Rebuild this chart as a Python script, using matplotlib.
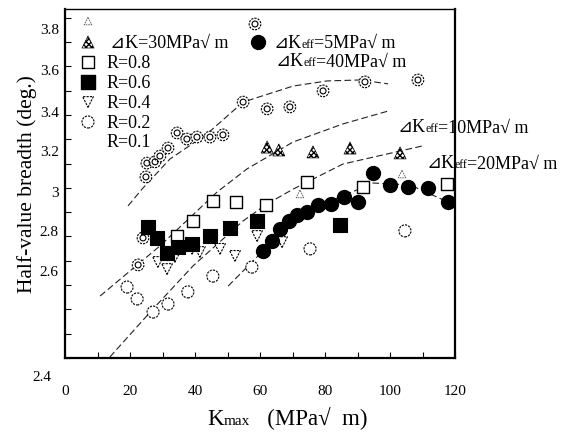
import numpy as np
import matplotlib
matplotlib.use('Agg')
import matplotlib.pyplot as plt
from matplotlib.offsetbox import TextArea, HPacker, AnnotationBbox
from matplotlib.transforms import blended_transform_factory

SERIF = ['Liberation Serif', 'DejaVu Serif', 'DejaVu Sans', 'Noto Sans CJK SC']

# ---------------- data ----------------
r01_x = [24.9, 25.2, 27.7, 29.2, 31.7, 34.5, 37.5, 40.6, 44.6, 48.6, 54.8, 62.2, 69.2, 79.4, 92.3, 108.6, 24.0, 22.5]
r01_y = [3.145, 3.202, 3.207, 3.231, 3.264, 3.326, 3.301, 3.309, 3.309, 3.318, 3.453, 3.425, 3.433, 3.499, 3.536, 3.544, 2.894, 2.783]

dk30_x = [62.2, 65.8, 76.3, 87.7, 103.1]
dk30_y = [3.268, 3.256, 3.248, 3.264, 3.244]

keff5_x = [60.9, 63.7, 66.2, 68.9, 71.4, 74.5, 77.8, 81.8, 85.8, 90.2, 94.8, 100.0, 105.5, 111.7, 117.8]
keff5_y = [2.840, 2.881, 2.931, 2.964, 2.988, 3.001, 3.030, 3.034, 3.063, 3.042, 3.161, 3.112, 3.104, 3.100, 3.042]

r08_x = [34.5, 39.4, 45.5, 52.6, 61.8, 74.5, 91.7, 117.5]
r08_y = [2.902, 2.964, 3.046, 3.042, 3.030, 3.124, 3.104, 3.116]

r06_x = [25.5, 28.3, 31.4, 34.8, 39.1, 44.6, 50.8, 59.1, 84.6]
r06_y = [2.939, 2.894, 2.832, 2.857, 2.869, 2.902, 2.935, 2.964, 2.947]

r04_x = [28.6, 31.4, 33.8, 39.1, 41.5, 47.7, 52.3, 59.1, 66.8]
r04_y = [2.795, 2.766, 2.816, 2.849, 2.836, 2.849, 2.820, 2.902, 2.877]

r02_x = [19.1, 22.2, 27.1, 31.7, 37.8, 45.5, 57.5, 75.4, 104.6]
r02_y = [2.692, 2.643, 2.589, 2.622, 2.672, 2.737, 2.774, 2.849, 2.923]

tri_x = [72.3, 103.7]
tri_y = [3.075, 3.157]

# fitted curves
c40_x = [19.4, 23.7, 32.3, 43.7, 54.8, 70.2, 80.6, 90.8, 99.4]
c40_y = [3.026, 3.095, 3.219, 3.322, 3.453, 3.519, 3.540, 3.544, 3.528]
c10_x = [10.8, 29.2, 46.8, 56.0, 70.2, 85.5, 99.4]
c10_y = [2.655, 2.861, 3.083, 3.178, 3.289, 3.363, 3.416]
c20_x = [13.8, 27.1, 39.4, 54.8, 62.2, 70.2, 85.5, 109.8]
c20_y = [2.404, 2.602, 2.779, 2.964, 3.034, 3.095, 3.198, 3.272]
c5_x = [50.2, 60.9, 69.2, 77.8, 86.2, 94.8, 106.2, 117.8]
c5_y = [2.696, 2.840, 2.951, 3.026, 3.071, 3.120, 3.112, 3.042]

xticks = [0, 10, 20, 30, 40, 50, 60, 70, 80, 90, 100, 110, 120]
xtick_labels = ['0', '', '20', '', '40', '', '60', '', '80', '', '100', '', '120']
ytick_labels = ['3.8', '3.6', '3.4', '3.2', '3', '2.8', '2.6', '2.4']
ytick_label_pos = [3.750, 3.581, 3.412, 3.248, 3.083, 2.919, 2.754, 2.322]

# ---------------- figure ----------------
fig = plt.figure(figsize=(5.75, 4.35), dpi=100)
ax = fig.add_axes([65 / 575, 1 - 359 / 435, 390 / 575, 349 / 435])
ax.set_xlim(0, 120)
ax.set_ylim(2.4, 3.836)

for s in ax.spines.values():
    s.set_linewidth(1.6)
ax.spines['top'].set_linewidth(1.0)

ax.set_xticks(xticks)
ax.set_xticklabels(xtick_labels, fontsize=11, family=SERIF)
ax.set_yticks(np.arange(2.4, 3.84, 0.1))
ax.set_yticklabels([])
ax.tick_params(direction='in', length=4, width=0.8, top=False, right=False)
ax.tick_params(axis='x', pad=19)

trans = blended_transform_factory(ax.transAxes, ax.transData)
for lab, pos in zip(ytick_labels, ytick_label_pos):
    xoff = -0.036 if lab == '2.4' else -0.016
    ax.text(xoff, pos, lab, transform=trans, ha='right', va='center',
            fontsize=11, family=SERIF, clip_on=False)

ax.set_ylabel('Half-value breadth (deg.)', fontsize=15.5, family=SERIF)
ax.yaxis.set_label_coords(-0.071, 0.50)

# curves
dash = (0, (6, 3))
for cx, cy in [(c40_x, c40_y), (c10_x, c10_y), (c20_x, c20_y), (c5_x, c5_y)]:
    ax.plot(cx, cy, color='#222222', lw=0.8, linestyle=dash, zorder=1)

# marker sizes
S_O, S_V, S_R1, S_SQ, S_FSQ, S_TRI, S_DOT = 75, 60, 70, 85, 90, 75, 100

# markers
dotted = (0, (2, 1))
ax.scatter(r02_x, r02_y, s=S_O, facecolors='white', edgecolors='k', linewidths=0.8, linestyles=dotted, zorder=2)
ax.scatter(r04_x, r04_y, s=S_V, marker='v', facecolors='white', edgecolors='k', linewidths=0.8, linestyles=dotted, zorder=2)
ax.scatter(tri_x, tri_y, s=30, marker='^', facecolors='white', edgecolors='#555555', linewidths=0.6, linestyles=dotted, zorder=2)
ax.scatter(r01_x, r01_y, s=S_R1, facecolors='white', edgecolors='k', linewidths=0.8, linestyles=dotted, zorder=3)
ax.scatter(r01_x, r01_y, s=18, facecolors='none', edgecolors='k', linewidths=0.8, zorder=3)
ax.scatter(r08_x, r08_y, s=S_SQ, marker='s', facecolors='white', edgecolors='k', linewidths=1.0, zorder=3)
ax.scatter(r06_x, r06_y, s=S_FSQ, marker='s', facecolors='k', edgecolors='k', linewidths=0.8, zorder=4)
ax.scatter(dk30_x, dk30_y, s=S_TRI, marker='^', facecolors='white', edgecolors='k', hatch='xxxxxx', linewidths=0.5, zorder=4)
ax.scatter(keff5_x, keff5_y, s=S_DOT, marker='o', facecolors='k', edgecolors='k', zorder=5)

# ---------------- legend-like block ----------------
def fx(px):
    return (px - 65) / 390.0

def fy(py):
    return (359 - py) / 349.0

A = ax.transAxes
lx = fx(88)
ax.scatter([lx], [fy(22)], s=30, marker='^', facecolors='white', edgecolors='#555555', linewidths=0.6, linestyles=dotted, transform=A, clip_on=False)
ax.scatter([lx], [fy(43)], s=S_TRI, marker='^', facecolors='white', edgecolors='k', hatch='xxxxxx', linewidths=0.5, transform=A, clip_on=False)
ax.scatter([lx], [fy(63)], s=S_SQ, marker='s', facecolors='white', edgecolors='k', linewidths=1.0, transform=A, clip_on=False)
ax.scatter([lx], [fy(83)], s=S_FSQ, marker='s', facecolors='k', edgecolors='k', transform=A, clip_on=False)
ax.scatter([lx], [fy(103)], s=S_V, marker='v', facecolors='white', edgecolors='k', linewidths=0.8, linestyles=dotted, transform=A, clip_on=False)
ax.scatter([lx], [fy(123)], s=S_O, facecolors='white', edgecolors='k', linewidths=0.8, linestyles=dotted, transform=A, clip_on=False)
ax.scatter([fx(255)], [fy(25)], s=S_R1, facecolors='white', edgecolors='k', linewidths=0.8, linestyles=dotted, transform=A, clip_on=False)
ax.scatter([fx(255)], [fy(25)], s=18, facecolors='none', edgecolors='k', linewidths=0.8, transform=A, clip_on=False)
ax.scatter([fx(258)], [fy(43)], s=S_DOT, marker='o', facecolors='k', edgecolors='k', transform=A, clip_on=False)

for txt, py in [('R=0.8', 63), ('R=0.6', 83), ('R=0.4', 103), ('R=0.2', 123), ('R=0.1', 143)]:
    ax.text(fx(107), fy(py), txt, transform=A, fontsize=13, family=SERIF, va='center', ha='left')


def rich(parts, x, y):
    areas = [TextArea(t, textprops=dict(fontsize=f, family=SERIF, color='k')) for t, f in parts]
    box = HPacker(children=areas, align='baseline', pad=0, sep=0)
    ab = AnnotationBbox(box, (x, y), xycoords='axes fraction', box_alignment=(0, 0.5),
                        frameon=False, pad=0, annotation_clip=False)
    ax.add_artist(ab)


rich([('⊿K=30MPa√ m', 13)], fx(110), fy(43))
rich([('⊿K', 13), ('eff', 8.5), ('=5MPa√ m', 13)], fx(273), fy(43))
rich([('⊿K', 13), ('eff', 8.5), ('=40MPa√ m', 13)], fx(275), fy(62))
rich([('⊿K', 13), ('eff', 8.5), ('=10MPa√ m', 13)], fx(397), fy(128))
rich([('⊿K', 13), ('eff', 8.5), ('=20MPa√ m', 13)], fx(426), fy(164))

# x axis label
areas = [TextArea('K', textprops=dict(fontsize=16.5, family=SERIF)),
         TextArea('max', textprops=dict(fontsize=11, family=SERIF)),
         TextArea('   (MPa√  m)', textprops=dict(fontsize=16.5, family=SERIF))]
xb = HPacker(children=areas, align='baseline', pad=0, sep=0)
ab = AnnotationBbox(xb, (fx(287), fy(418)), xycoords='axes fraction', box_alignment=(0.5, 0.5),
                    frameon=False, pad=0, annotation_clip=False)
ax.add_artist(ab)

fig.savefig('out.png', dpi=100)
